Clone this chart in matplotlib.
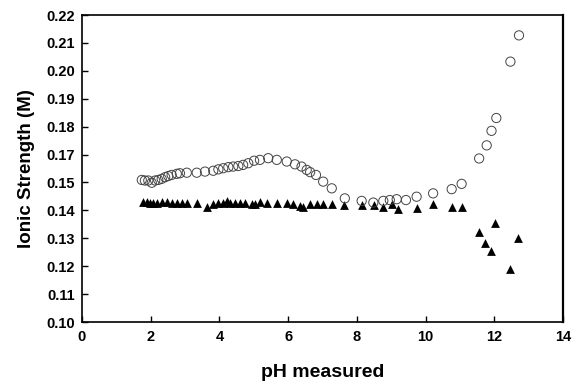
import matplotlib
matplotlib.use("Agg")
import matplotlib.pyplot as plt

# Open circles
ph_circle = [1.74, 1.83, 1.93, 2.03, 2.13, 2.22, 2.32, 2.42, 2.51, 2.61, 2.76, 2.85,
             3.05, 3.34, 3.58, 3.82, 3.97, 4.11, 4.26, 4.40, 4.55, 4.69, 4.84, 5.01,
             5.18, 5.42, 5.67, 5.96, 6.20, 6.39, 6.54, 6.64, 6.81, 7.02, 7.27, 7.65,
             8.14, 8.48, 8.77, 8.96, 9.16, 9.43, 9.74, 10.22, 10.76, 11.05, 11.56,
             11.78, 11.92, 12.06, 12.47, 12.72]
ionic_circle = [0.1509, 0.1507, 0.1507, 0.1499, 0.1507, 0.1509, 0.1513, 0.1519, 0.1523,
                0.1527, 0.1531, 0.1533, 0.1535, 0.1535, 0.1539, 0.1542, 0.1547, 0.1551,
                0.1555, 0.1557, 0.1559, 0.1563, 0.1569, 0.1578, 0.1581, 0.1587, 0.1581,
                0.1575, 0.1565, 0.1557, 0.1545, 0.1537, 0.1527, 0.1503, 0.1479, 0.1443,
                0.1434, 0.1428, 0.1434, 0.1437, 0.1440, 0.1437, 0.1449, 0.1461, 0.1476,
                0.1495, 0.1586, 0.1633, 0.1685, 0.1731, 0.1933, 0.2027]

# Filled triangles
ph_triangle = [1.78, 1.88, 1.98, 2.08, 2.17, 2.32, 2.47, 2.61, 2.76, 2.90, 3.05, 3.34,
               3.63, 3.82, 3.97, 4.11, 4.21, 4.31, 4.45, 4.60, 4.74, 4.94, 5.04, 5.18,
               5.38, 5.67, 5.96, 6.15, 6.35, 6.44, 6.64, 6.83, 7.02, 7.29, 7.63, 8.14,
               8.50, 8.77, 9.01, 9.21, 9.74, 10.22, 10.76, 11.07, 11.56, 11.74, 11.90,
               12.03, 12.46, 12.70]
ionic_triangle = [0.1431, 0.1429, 0.1428, 0.1428, 0.1428, 0.1431, 0.1429, 0.1428, 0.1428,
                  0.1428, 0.1428, 0.1425, 0.1413, 0.1422, 0.1425, 0.1425, 0.1434, 0.1428,
                  0.1425, 0.1425, 0.1425, 0.1423, 0.1423, 0.1431, 0.1425, 0.1425, 0.1425,
                  0.1423, 0.1416, 0.1413, 0.1422, 0.1422, 0.1422, 0.1422, 0.1419, 0.1419,
                  0.1419, 0.1411, 0.1423, 0.1404, 0.1410, 0.1422, 0.1411, 0.1411, 0.1321,
                  0.1283, 0.1255, 0.1355, 0.1189, 0.1300]

# Axis ticks (the original axis labels skip 0.16)
x_ticks = [0, 2, 4, 6, 8, 10, 12, 14]
y_tick_pos = [0.10, 0.11, 0.12, 0.13, 0.14, 0.15, 0.16, 0.17, 0.18, 0.19, 0.20, 0.21]
y_tick_labels = ["0.10", "0.11", "0.12", "0.13", "0.14", "0.15",
                 "0.17", "0.18", "0.19", "0.20", "0.21", "0.22"]

plt.rcParams['font.family'] = ['Liberation Sans', 'DejaVu Sans']

fig = plt.figure(figsize=(5.73, 3.85), dpi=100)
ax = fig.add_axes([0.1431, 0.1636, 0.8394, 0.7974])

ax.scatter(ph_circle, ionic_circle, s=44, marker='o', facecolors='none',
           edgecolors='#444444', linewidths=0.7, zorder=3)
ax.scatter(ph_triangle, ionic_triangle, s=40, marker='^', color='black',
           linewidths=0, zorder=2)

ax.set_xlim(0, 14)
ax.set_ylim(0.10, 0.21)
ax.set_xticks(x_ticks)
ax.set_xticklabels([str(t) for t in x_ticks], fontsize=10.5, fontweight='bold')
ax.set_yticks(y_tick_pos)
ax.set_yticklabels(y_tick_labels, fontsize=10.5, fontweight='bold')

ax.tick_params(axis='x', direction='in', length=4, width=1.0, top=False, pad=6)
ax.tick_params(axis='y', direction='in', length=4, width=1.0, right=False, pad=5)
for name, sp in ax.spines.items():
    sp.set_linewidth(1.2)
ax.spines['right'].set_linewidth(1.6)

ax.set_xlabel('pH measured', fontsize=14, fontweight='bold', labelpad=14)
ax.set_ylabel('Ionic Strength (M)', fontsize=13.5, fontweight='bold', labelpad=8)

fig.savefig('out.png', dpi=100)
